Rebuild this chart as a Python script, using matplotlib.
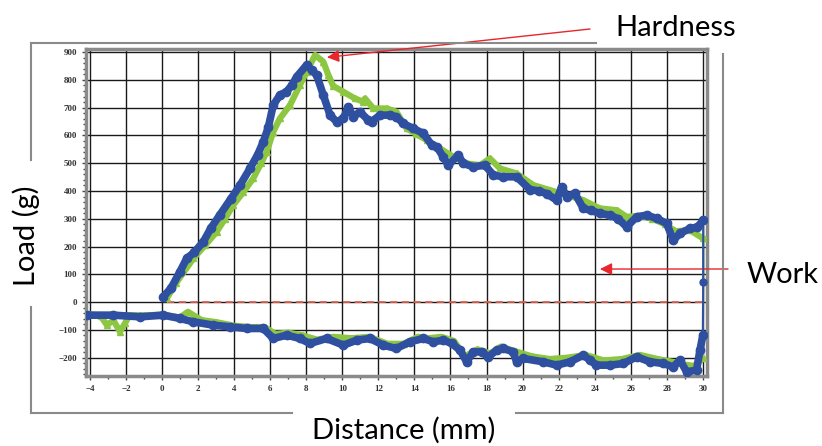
import numpy as np
import matplotlib
matplotlib.use("Agg")
import matplotlib.pyplot as plt
from matplotlib.lines import Line2D
from matplotlib.ticker import MultipleLocator

# blue run: load (forward) then return
blue_load_x = [0.07, 0.5, 1.0, 1.37, 1.8, 2.29, 2.7, 3.2, 3.8, 4.33, 4.88, 5.3, 5.62, 5.9, 6.17,
               6.54, 6.9, 7.2, 7.47, 8.02, 8.3, 8.58, 8.95, 9.32, 9.69, 10.06, 10.34, 10.61,
               10.98, 11.44, 11.63, 12.09, 12.65, 13.0, 13.38, 13.93, 14.5, 14.96, 15.24, 15.6,
               15.88, 16.44, 16.71, 17.27, 17.91, 18.38, 18.93, 19.67, 20.41, 20.9, 21.34,
               21.89, 22.17, 22.45, 22.9, 23.37, 23.8, 24.29, 24.85, 25.3, 25.77, 26.33, 26.88,
               27.44, 27.99, 28.36, 28.73, 29.28, 29.7, 30.02]
blue_load_y = [19, 50, 110, 157, 180, 217, 265, 313, 370, 421, 481, 530, 577, 630, 709,
               745, 757, 780, 811, 853, 835, 817, 745, 673, 649, 661, 703, 667,
               685, 655, 650, 673, 673, 667, 643, 625, 607, 565, 559, 523,
               493, 529, 499, 487, 493, 457, 451, 451, 405, 400, 390,
               367, 415, 379, 391, 337, 330, 319, 313, 300, 271, 307, 313,
               301, 283, 223, 247, 265, 270, 295]
# points on the fast drop at the end of travel
blue_drop_x = [30.02, 30.0]
blue_drop_y = [73, -119]
blue_ret_x = [30.0, 29.84, 29.65, 29.1, 28.73, 28.36, 27.8, 27.07, 26.33, 25.59, 24.85,
              24.1, 23.74, 23.37, 22.63, 21.89, 21.15, 20.04, 19.67, 19.48, 18.93, 18.56, 18.1,
              17.73, 17.27, 16.9, 16.53, 16.07, 15.6, 15.05, 14.5, 13.75, 13.0, 12.27, 11.54,
              10.8, 10.06, 9.13, 8.2, 7.65, 6.92, 6.17, 5.62, 4.7, 3.77, 2.85, 1.74, 1.0, 0.07,
              -1.22, -2.7, -4.18]
blue_ret_y = [-119, -173, -245, -251, -209, -233, -221, -215, -197, -221, -227,
              -227, -209, -191, -215, -227, -215, -203, -215, -179, -167, -173, -197,
              -179, -179, -215, -173, -149, -137, -143, -131, -143, -167, -155, -131,
              -137, -155, -131, -149, -131, -119, -131, -95, -95, -89, -83, -71, -59, -47,
              -53, -47, -47]

# green run
green_load_x = [0.26, 0.8, 1.74, 2.4, 3.03, 3.5, 3.95, 4.5, 5.06, 5.5, 5.81, 6.17, 6.54, 7.1,
                7.65, 8.02, 8.49, 8.95, 9.23, 9.5, 10.06, 10.7, 11.17, 11.26, 11.72, 12.46,
                13.0, 13.57, 14.1, 14.68, 15.42, 16.16, 16.9, 17.64, 18.19, 18.75, 19.67,
                20.6, 21.52, 22.45, 23.37, 24.29, 25.22, 25.77, 26.5, 27.2, 27.9, 28.5,
                29.28, 30.02]
green_load_y = [13, 70, 157, 205, 253, 300, 349, 395, 445, 500, 541, 613, 661, 709,
                781, 829, 889, 865, 817, 778, 757, 733, 721, 733, 697, 697,
                685, 625, 605, 583, 553, 523, 499, 493, 517, 481, 463,
                421, 403, 385, 367, 337, 331, 307, 310, 300, 280, 255,
                259, 229]
green_ret_x = [30.0, 29.5, 29.0, 28.3, 27.5, 26.5, 25.5, 24.5, 23.5, 22.5, 21.5, 20.5, 19.5,
               18.8, 18.2, 17.5, 16.8, 16.2, 15.5, 14.8, 14.2, 13.4, 12.5, 11.5, 10.5, 9.5,
               8.6, 7.8, 7.0, 6.3, 5.7, 5.0, 4.0, 3.0, 2.2, 1.44, 1.0, 0.0, -1.0, -1.8,
               -2.05, -2.33, -2.7, -3.05, -3.4, -4.18]
green_ret_y = [-203, -230, -225, -215, -205, -190, -205, -210, -190, -200, -205, -195, -175,
               -160, -185, -170, -195, -140, -125, -130, -125, -150, -150, -125, -130, -125,
               -135, -120, -110, -115, -90, -90, -85, -72, -65, -35, -55, -45, -48, -47,
               -76, -107, -65, -83, -50, -42]

x_ticks = np.arange(-4, 31, 2)
y_ticks = np.arange(-200, 901, 100)

BLUE = "#2f50a0"
GREEN = "#8dc641"
RED = "#e8262b"

fig = plt.figure(figsize=(8.22, 4.46), dpi=100)
W, H = 822, 446
ax = fig.add_axes([86 / W, 1 - 376 / H, (707 - 86) / W, (376 - 49) / H])

ax.set_xlim(-4.215, 30.23)
ax.set_ylim(-266, 911)

ax.plot([0.3, 30], [0, 0], color="#e0604f", lw=1.3, ls=(0, (4, 2.5)), zorder=2)

# green
ax.plot(green_load_x, green_load_y, color=GREEN, lw=4.5, marker="^", ms=5, zorder=3)
ax.plot([green_load_x[-1], green_ret_x[0]], [green_load_y[-1], green_ret_y[0]],
        color=GREEN, lw=1.5, zorder=3)
ax.plot(green_ret_x, green_ret_y, color=GREEN, lw=4.5, marker="^", ms=5, zorder=3)

# blue
ax.plot(blue_load_x, blue_load_y, color=BLUE, lw=5.5, marker="o", ms=6, zorder=4,
        solid_joinstyle="round", solid_capstyle="round")
ax.plot([blue_load_x[-1]] + blue_drop_x, [blue_load_y[-1]] + blue_drop_y,
        color=BLUE, lw=1.5, marker="o", ms=5, zorder=4)
ax.plot(blue_ret_x, blue_ret_y, color=BLUE, lw=5.5, marker="o", ms=6, zorder=4,
        solid_joinstyle="round", solid_capstyle="round")

ax.set_xticks(x_ticks)
ax.set_yticks(y_ticks)
ax.xaxis.set_minor_locator(MultipleLocator(1))
ax.yaxis.set_minor_locator(MultipleLocator(20))
ax.grid(True, which="major", color="#1a1a1a", lw=1)
ax.set_axisbelow(True)
ax.tick_params(which="both", direction="out", colors="#444", labelsize=6.5,
               labelcolor="#333", width=1)
ax.tick_params(which="major", length=3)
ax.tick_params(which="minor", length=2)
for lab in ax.get_xticklabels() + ax.get_yticklabels():
    lab.set_family("Liberation Serif")
    lab.set_fontweight("bold")
for s in ax.spines.values():
    s.set_color("#8a8a8a")
    s.set_linewidth(2.5)

# outer frame around the chart picture
def fl(x0, y0, x1, y1):
    fig.add_artist(Line2D([x0 / W, x1 / W], [1 - y0 / H, 1 - y1 / H],
                          color="#8a8a8a", lw=1.5))

fl(31, 43, 31, 160)
fl(31, 307, 31, 413)
fl(31, 43, 596, 43)
fl(723, 54, 723, 413)
fl(31, 413, 292, 413)
fl(516, 413, 723, 413)

font = "Lato"
fig.text(26 / W, 1 - 236 / H, "Load (g)", rotation=90, ha="center", va="center",
         fontsize=21, family=font)
fig.text(404 / W, 1 - 430 / H, "Distance (mm)", ha="center", va="center",
         fontsize=21, family=font)
fig.text(676 / W, 1 - 28 / H, "Hardness", ha="center", va="center",
         fontsize=21, family=font)
fig.text(783 / W, 1 - 275 / H, "Work", ha="center", va="center",
         fontsize=21, family=font)

arrow = dict(arrowstyle="-|>", color=RED, lw=1, mutation_scale=18, shrinkA=0, shrinkB=0)
ax.annotate("", xy=(9.15, 881), xytext=(590, H - 29), textcoords="figure pixels",
            arrowprops=arrow, annotation_clip=False)
ax.annotate("", xy=(24.29, 119), xytext=(728, H - 269), textcoords="figure pixels",
            arrowprops=arrow, annotation_clip=False)

fig.savefig("out.png", dpi=100)
